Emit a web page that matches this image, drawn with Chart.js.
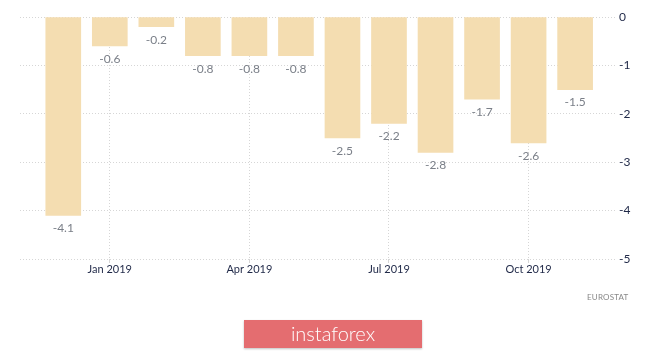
<!DOCTYPE html>
<html>
<head>
<meta charset="utf-8">
<script src="https://cdn.jsdelivr.net/npm/chart.js@4"></script>
<style>
  body { margin: 0; background: #fff; }
  .wrap { position: relative; width: 665px; height: 351px; }
  .source { position: absolute; left: 587px; top: 292px; font: 8px Lato, sans-serif; color: #888; letter-spacing: 0.2px; }
  .banner { position: absolute; left: 244px; top: 320px; width: 178px; height: 28px;
    background: #e46d70; color: #fff; font: 300 20px Lato, sans-serif; text-align: center;
    line-height: 27px; box-shadow: 0 1px 2px rgba(0,0,0,0.25); }
</style>
</head>
<body>
<div class="wrap">
  <canvas id="chart" width="665" height="351"></canvas>
  <div class="source">EUROSTAT</div>
  <div class="banner">instaforex</div>
</div>
<script>
// monthly values, Dec 2018 .. Nov 2019
const months = ['Dec 2018', 'Jan 2019', 'Feb 2019', 'Mar 2019', 'Apr 2019', 'May 2019',
  'Jun 2019', 'Jul 2019', 'Aug 2019', 'Sep 2019', 'Oct 2019', 'Nov 2019'];
const values = [-4.1, -0.6, -0.2, -0.8, -0.8, -0.8, -2.5, -2.2, -2.8, -1.7, -2.6, -1.5];
const tickIndex = [1, 4, 7, 10];
const tickLabels = ['Jan 2019', 'Apr 2019', 'Jul 2019', 'Oct 2019'];
const yTicks = [0, -1, -2, -3, -4, -5];

const valueLabels = {
  id: 'valueLabels',
  afterDatasetsDraw(chart) {
    const ctx = chart.ctx;
    const meta = chart.getDatasetMeta(0);
    ctx.save();
    ctx.font = '12px Lato, sans-serif';
    ctx.fillStyle = '#7a7f88';
    ctx.textAlign = 'center';
    ctx.textBaseline = 'middle';
    meta.data.forEach((bar, i) => {
      ctx.fillText(String(values[i]), bar.x, bar.y + 13);
    });
    ctx.restore();
  }
};

new Chart(document.getElementById('chart'), {
  type: 'bar',
  data: {
    datasets: [{
      data: values.map((v, i) => ({ x: i, y: v })),
      backgroundColor: '#f4ddb1',
      barThickness: 35,
    }]
  },
  options: {
    responsive: false,
    animation: false,
    layout: { padding: { left: 20, top: 17, right: 0, bottom: 0 } },
    plugins: { legend: { display: false }, tooltip: { enabled: false } },
    scales: {
      x: {
        type: 'linear',
        offset: false,
        min: -0.93,
        max: 11.9,
        afterBuildTicks: (scale) => { scale.ticks = tickIndex.map(v => ({ value: v })); },
        afterFit: (scale) => { scale.height = 92; },
        ticks: {
          callback: (v) => tickLabels[tickIndex.indexOf(v)],
          color: '#1f2847',
          font: { family: 'Lato', size: 11 },
          padding: 0,
          maxRotation: 0,
        },
        grid: { offset: false, color: '#d6d6d6', tickLength: 4 },
        border: { display: false, dash: [1, 2] },
      },
      y: {
        position: 'right',
        min: -5,
        max: 0,
        afterBuildTicks: (scale) => { scale.ticks = yTicks.map(v => ({ value: v })); },
        afterFit: (scale) => { scale.width = 48; },
        ticks: {
          color: '#1f2847',
          font: { family: 'Lato', size: 12 },
          padding: 2,
        },
        grid: { color: '#d6d6d6', drawTicks: false },
        border: { display: false, dash: [1, 2] },
      }
    }
  },
  plugins: [valueLabels]
});
</script>
</body>
</html>
